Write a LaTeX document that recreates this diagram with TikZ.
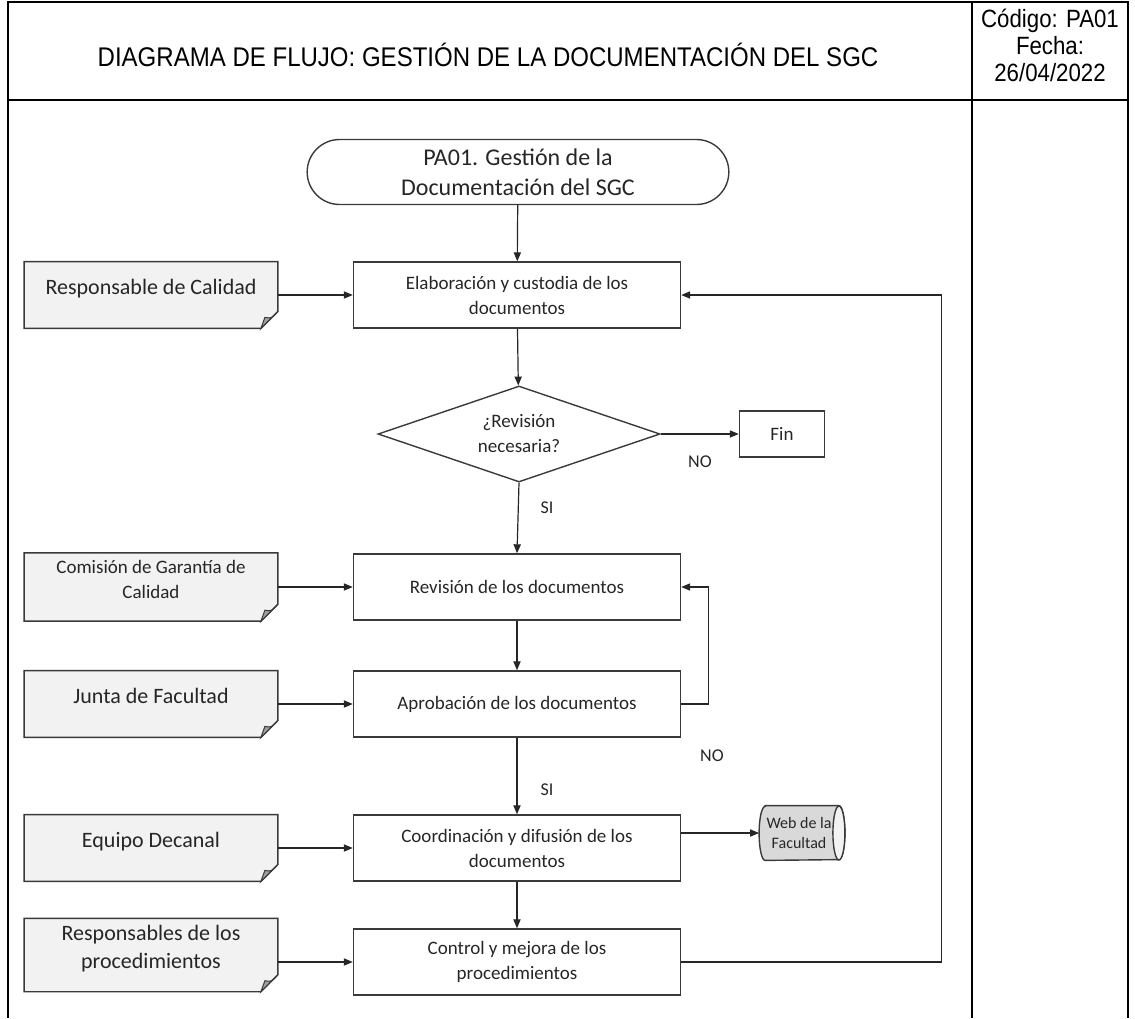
\documentclass[tikz,border=0pt]{standalone}
\usepackage{fontspec}
\setmainfont{Carlito}
\newfontfamily\hdrfont{Liberation Sans}[FakeStretch=0.89]
\usetikzlibrary{positioning, arrows.meta, shapes.geometric, shapes.misc}
\usepackage{xcolor}

\definecolor{lineclr}{HTML}{3A3A3A}
\definecolor{docfill}{HTML}{F2F2F2}
\definecolor{foldfill}{HTML}{A0A0A0}
\definecolor{txtclr}{HTML}{262626}

\tikzset{
  process/.style={draw=lineclr, line width=0.7pt, minimum width=163.5pt,
    minimum height=33pt, align=center, text=txtclr,
    font=\fontsize{9.5}{12.5}\selectfont},
  docbox/.style={fill=docfill, minimum width=126.5pt, minimum height=33pt,
    align=center, text=txtclr, text depth=8pt, font=\fontsize{11}{14}\selectfont},
  arr/.style={-{Triangle[length=4.5pt,width=3.6pt]}, line width=0.6pt, draw=txtclr},
  answer/.style={font=\fontsize{9}{11}\selectfont, text=txtclr},
  frame/.style={line width=1pt, draw=black}
}

% outline and folded corner of a document node
\newcommand{\docshape}[1]{%
  \fill[white] ([yshift=8.5pt]#1.south east) -- (#1.south east)
    -- ([xshift=-8.5pt]#1.south east) -- cycle;
  \draw[lineclr, line width=0.7pt]
    (#1.north west) -- (#1.north east) -- ([yshift=8.5pt]#1.south east)
    -- ([xshift=-8.5pt]#1.south east) -- (#1.south west) -- cycle;
  \filldraw[fill=foldfill, draw=lineclr, line width=0.5pt]
    ([yshift=8.5pt]#1.south east) .. controls ([xshift=-3pt,yshift=5pt]#1.south east)
    .. ([xshift=-6.5pt,yshift=5.5pt]#1.south east) -- ([xshift=-8.5pt]#1.south east) -- cycle;
}

% drum (stored data) drawn round a named node
\newcommand{\drumshape}[1]{%
  \filldraw[fill=gray!30, draw=lineclr, line width=0.7pt]
    ([xshift=3pt]#1.north west) -- ([xshift=-3pt]#1.north east)
    arc[start angle=90, end angle=-90, x radius=3pt, y radius=13.5pt]
    -- ([xshift=3pt]#1.south west)
    arc[start angle=270, end angle=90, x radius=3pt, y radius=13.5pt] -- cycle;
  \filldraw[fill=gray!10, draw=lineclr, line width=0.7pt]
    ([xshift=-3pt]#1.east) ellipse[x radius=3pt, y radius=13.5pt];
}

\begin{document}
\begin{tikzpicture}[x=0.5pt, y=-0.5pt]
    \useasboundingbox (0,0) rectangle (1135,1018);

    % header table
    \draw[frame] (8,1018) -- (8,2) -- (1128,2) -- (1128,1018);
    \draw[frame] (972,2) -- (972,1018);
    \draw[frame] (8,100) -- (1128,100);
    \node[font=\hdrfont\fontsize{13.5}{16}\selectfont] (title) at (488,55)
        {DIAGRAMA DE FLUJO: GESTIÓN DE LA DOCUMENTACIÓN DEL SGC};
    \node[align=center, font=\hdrfont\fontsize{12.5}{13.5}\selectfont] (code) at (1050,45)
        {Código: PA01\\Fecha:\\26/04/2022};

    % main column
    \node[rounded rectangle, draw=lineclr, line width=0.7pt, minimum width=217.5pt,
        minimum height=32.5pt, align=center, text=txtclr,
        font=\fontsize{12}{15}\selectfont] (start) at (518,172)
        {PA01. Gestión de la\\Documentación del SGC};
    \node[process] (elab) at (517,295) {Elaboración y custodia de los\\documentos};
    \node[diamond, draw=lineclr, line width=0.7pt, aspect=2.9, inner sep=0pt,
        minimum width=141pt, minimum height=48pt, align=center, text=txtclr,
        font=\fontsize{9.5}{12.5}\selectfont] (dec) at (519,434)
        {¿Revisión\\necesaria?};
    \node[process, minimum width=42.5pt, minimum height=23pt] (fin) at (782,434) {Fin};
    \node[process] (rev) at (517,587) {Revisión de los documentos};
    \node[process] (aprob) at (517,704) {Aprobación de los documentos};
    \node[process] (coord) at (517,848) {Coordinación y difusión de los\\documentos};
    \node[process] (control) at (517,962) {Control y mejora de los\\procedimientos};

    % web storage
    \node[minimum width=42.5pt, minimum height=27pt, inner sep=0pt] (web) at (802,833) {};
    \drumshape{web}
    \node[align=center, text=txtclr, font=\fontsize{8}{10}\selectfont,
        xshift=-1.5pt] (webtxt) at (web) {Web de la\\Facultad};

    % responsibles
    \node[docbox] (resp) at (151,295) {Responsable de Calidad};
    \node[docbox, font=\fontsize{9.5}{12.5}\selectfont] (com) at (151,587)
        {Comisión de Garantía de\\Calidad};
    \node[docbox] (junta) at (151,704) {Junta de Facultad};
    \node[docbox] (equipo) at (151,848) {Equipo Decanal};
    \node[docbox] (respproc) at (151,955) {Responsables de los\\procedimientos};
    \docshape{resp}
    \docshape{com}
    \docshape{junta}
    \docshape{equipo}
    \docshape{respproc}

    % flow
    \draw[arr] (start) -- (elab);
    \draw[arr] (elab) -- (dec);
    \draw[arr] (dec.east) -- (fin.west);
    \draw[arr] (dec.south) -- (rev.north);
    \draw[arr] (rev) -- (aprob);
    \draw[arr] (aprob.east) -- ++(27,0) |- (rev.east);
    \draw[arr] (aprob) -- (coord);
    \draw[arr] (coord.east |- web.west) -- (web.west);
    \draw[arr] (coord) -- (control);
    \draw[arr] (control.east) -- ++(260,0) |- (elab.east);

    \draw[arr] (resp) -- (elab);
    \draw[arr] (com) -- (rev);
    \draw[arr] (junta) -- (aprob);
    \draw[arr] (equipo) -- (coord);
    \draw[arr] (respproc.east |- control.west) -- (control.west);

    \node[answer] (no1) at (700,462) {NO};
    \node[answer] (si1) at (547,508) {SI};
    \node[answer] (no2) at (712,756) {NO};
    \node[answer] (si2) at (547,790) {SI};
\end{tikzpicture}
\end{document}
